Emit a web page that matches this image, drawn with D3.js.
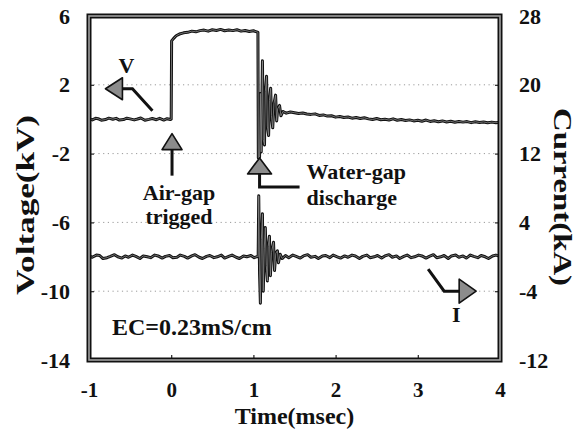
<!DOCTYPE html>
<html><head><meta charset="utf-8">
<script src="https://cdn.jsdelivr.net/npm/d3@7"></script>
<style>
body{margin:0;background:#fff;}
text{font-family:"Liberation Serif","Times New Roman",serif;font-weight:bold;fill:#111;}
</style></head>
<body><svg id="c" width="580" height="430"></svg>
<script>
// ---- data (time in msec) ----
const xTicks = [-1, 0, 1, 2, 3, 4];
const vTicks = [6, 2, -2, -6, -10, -14];
const iTicks = [28, 20, 12, 4, -4, -12];

// Voltage trace [t, kV]
const voltage = [
 [-1.00,0.02],[-0.96,-0.04],[-0.92,0.05],[-0.89,0.03],[-0.85,-0.06],[-0.80,-0.02],[-0.76,0.06],
 [-0.71,0.00],[-0.67,0.05],[-0.63,-0.05],[-0.58,-0.02],[-0.54,0.06],[-0.50,0.02],[-0.45,-0.04],
 [-0.41,0.01],[-0.37,0.07],[-0.32,-0.06],[-0.27,-0.01],[-0.23,0.04],[-0.18,-0.03],[-0.14,0.05],
 [-0.09,-0.05],[-0.05,0.03],[-0.01,-0.02],
 [0.00,0.00],[0.005,4.55],[0.03,4.70],[0.06,4.85],[0.10,4.95],[0.15,5.02],[0.20,5.05],[0.25,5.12],
 [0.30,5.08],[0.35,5.15],[0.40,5.18],[0.45,5.12],[0.50,5.20],[0.55,5.16],[0.60,5.22],[0.65,5.14],
 [0.70,5.19],[0.75,5.15],[0.80,5.20],[0.85,5.12],[0.90,5.16],[0.95,5.10],[1.00,5.14],[1.04,5.08],
 [1.055,5.05],[1.06,-2.25],[1.075,-2.2],[1.085,1.5],[1.095,-1.9],[1.11,3.4],[1.12,-1.2],[1.135,-1.5],
 [1.145,1.6],[1.16,2.5],[1.17,-0.4],[1.185,-0.95],[1.195,1.1],[1.21,1.8],[1.22,0.2],[1.235,-0.5],
 [1.25,0.9],[1.27,1.4],[1.283,-0.1],[1.295,0.6],[1.318,0.8],[1.335,0.2],[1.36,0.45],[1.40,0.35],
 [1.45,0.42],[1.50,0.38],[1.55,0.33],[1.60,0.36],[1.65,0.30],[1.70,0.28],[1.75,0.31],[1.80,0.22],
 [1.85,0.25],[1.90,0.18],[1.95,0.20],[2.00,0.12],[2.05,0.16],[2.10,0.10],[2.15,0.13],[2.20,0.06],
 [2.25,0.10],[2.30,0.04],[2.35,0.08],[2.40,0.02],[2.45,-0.02],[2.50,0.04],[2.55,-0.03],[2.60,0.00],
 [2.65,-0.05],[2.70,0.02],[2.75,-0.06],[2.80,-0.02],[2.85,-0.08],[2.90,-0.04],[2.95,-0.10],[3.00,-0.06],
 [3.05,-0.12],[3.10,-0.05],[3.15,-0.13],[3.20,-0.09],[3.25,-0.15],[3.30,-0.10],[3.35,-0.16],[3.40,-0.12],
 [3.45,-0.18],[3.50,-0.13],[3.55,-0.17],[3.60,-0.14],[3.65,-0.20],[3.70,-0.15],[3.75,-0.19],[3.80,-0.16],
 [3.85,-0.21],[3.90,-0.17],[3.95,-0.20],[4.00,-0.18]
];

// Current trace [t, kA]
const current = [
 [-1.00,0.1],[-0.96,-0.05],[-0.91,0.2],[-0.87,0.15],[-0.83,-0.2],[-0.78,-0.1],[-0.74,0.05],[-0.69,0.25],
 [-0.65,0.0],[-0.60,-0.15],[-0.56,0.1],[-0.52,-0.05],[-0.47,0.2],[-0.43,0.05],[-0.38,-0.2],[-0.34,0.1],
 [-0.29,0.0],[-0.25,-0.1],[-0.20,0.2],[-0.16,0.1],[-0.11,-0.15],[-0.07,0.05],[-0.02,0.15],[0.02,-0.1],
 [0.07,-0.05],[0.11,0.2],[0.16,0.05],[0.20,-0.15],[0.25,0.1],[0.29,0.25],[0.34,-0.05],[0.38,-0.2],
 [0.43,0.05],[0.47,0.15],[0.52,-0.1],[0.56,0.0],[0.61,0.2],[0.65,-0.15],[0.70,0.05],[0.74,0.2],
 [0.79,-0.05],[0.83,-0.2],[0.88,0.1],[0.92,0.0],[0.97,0.15],[1.01,-0.1],[1.05,0.05],
 [1.058,0.0],[1.065,7.1],[1.075,-2.0],[1.085,-5.4],[1.097,2.0],[1.11,5.0],
 [1.12,-4.0],[1.132,1.0],[1.145,3.4],[1.157,-1.0],[1.17,-2.8],[1.18,1.2],[1.195,2.4],[1.207,-2.2],
 [1.22,0.5],[1.245,1.7],[1.257,-1.6],[1.272,0.4],[1.292,0.7],[1.305,-0.7],[1.325,0.3],[1.35,-0.2],
 [1.39,0.15],[1.43,-0.1],[1.48,0.2],[1.52,0.05],[1.57,-0.15],[1.61,0.1],[1.66,0.25],[1.70,-0.05],
 [1.75,0.05],[1.79,-0.2],[1.84,0.1],[1.88,0.15],[1.93,-0.1],[1.97,0.2],[2.02,0.0],[2.06,-0.15],
 [2.11,0.1],[2.15,-0.05],[2.20,0.2],[2.24,0.1],[2.29,-0.2],[2.33,0.05],[2.38,0.2],[2.42,-0.1],
 [2.47,0.0],[2.51,0.15],[2.56,-0.15],[2.60,0.1],[2.65,0.25],[2.69,-0.05],[2.74,0.1],[2.78,-0.2],
 [2.83,0.05],[2.87,0.2],[2.92,-0.1],[2.96,0.0],[3.01,0.2],[3.05,0.1],[3.10,-0.15],[3.14,0.05],
 [3.19,0.25],[3.23,-0.1],[3.28,0.0],[3.32,0.15],[3.37,-0.2],[3.41,0.1],[3.46,0.2],[3.50,-0.05],
 [3.55,0.1],[3.59,-0.15],[3.64,0.2],[3.68,0.05],[3.73,-0.1],[3.77,0.15],[3.82,0.0],[3.86,-0.2],
 [3.91,0.1],[3.95,0.2],[4.00,0.05]
];

// ---- layout ----
const svg = d3.select("#c");
const L = 89, R = 500, T = 16, B = 360;
const x = d3.scaleLinear().domain([-1, 4]).range([L, R]);
const yV = d3.scaleLinear().domain([-14, 6]).range([B, T]);
const yI = d3.scaleLinear().domain([-12, 28]).range([B, T]);

// grid
svg.append("g").selectAll("line").data(vTicks.filter(v => v > -14 && v < 6)).join("line")
  .attr("x1", L).attr("x2", R).attr("y1", d => yV(d)).attr("y2", d => yV(d))
  .attr("stroke", "#9a9a9a").attr("stroke-width", 1).attr("stroke-dasharray", "1.2,3.5");

// axes
const fmt = d => String(d);
const axL = d3.axisLeft(yV).tickValues(vTicks).tickSize(-5).tickPadding(19).tickFormat(fmt);
const axR = d3.axisRight(yI).tickValues(iTicks).tickSize(-5).tickPadding(19).tickFormat(fmt);
const axB = d3.axisBottom(x).tickValues(xTicks).tickSize(-5).tickPadding(22).tickFormat(fmt);
function style(fs){ return g => { g.select(".domain").remove(); g.selectAll("line").attr("stroke","#222").attr("stroke-width",1.2);
  g.selectAll("text").attr("font-size",fs).attr("font-family","Liberation Serif, serif").attr("font-weight","bold").attr("fill","#111"); }; }
svg.append("g").attr("transform",`translate(${L},0)`).call(axL).call(style(22));
svg.append("g").attr("transform",`translate(${R},0)`).call(axR).call(style(22));
svg.append("g").attr("transform",`translate(0,${B})`).call(axB).call(style(21));

// traces
const lineV = d3.line().x(d => x(d[0])).y(d => yV(d[1]));
const lineI = d3.line().x(d => x(d[0])).y(d => yI(d[1]));
[[voltage,lineV],[current,lineI]].forEach(([data,ln]) => {
  svg.append("path").attr("d", ln(data)).attr("fill","none").attr("stroke","#111")
    .attr("stroke-width",3).attr("stroke-linejoin","round");
  svg.append("path").attr("d", ln(data)).attr("fill","none").attr("stroke","#8a8a8a")
    .attr("stroke-width",0.8).attr("stroke-linejoin","round");
});

// frame
svg.append("rect").attr("x",L).attr("y",T).attr("width",R-L).attr("height",B-T)
  .attr("fill","none").attr("stroke","#111").attr("stroke-width",5);
svg.append("rect").attr("x",L).attr("y",T).attr("width",R-L).attr("height",B-T)
  .attr("fill","none").attr("stroke","#a0a0a0").attr("stroke-width",1.6);

// ---- annotations ----
const ann = svg.append("g");
function tri(pts){ ann.append("path").attr("d","M"+pts.map(p=>p.join(",")).join("L")+"Z")
  .attr("fill","#8c8c8c").attr("stroke","#111").attr("stroke-width",1.6).attr("stroke-linejoin","round"); }
function pl(pts){ ann.append("path").attr("d","M"+pts.map(p=>p.join(",")).join("L"))
  .attr("fill","none").attr("stroke","#111").attr("stroke-width",3); }

// V arrow (points left)
{ const tx = x(-0.80), ty = yV(1.77);
  pl([[tx+16,ty],[tx+27,ty],[tx+47,ty+22]]);
  tri([[tx,ty],[tx+17,ty-11],[tx+17,ty+11]]);
  ann.append("text").attr("x",tx+21).attr("y",ty-16).attr("text-anchor","middle").attr("font-size",22).text("V"); }
// Air-gap arrow (points up)
{ const tx = x(0.01), ty = yV(-0.84);
  pl([[tx,ty+14],[tx,ty+42]]);
  tri([[tx,ty],[tx-10,ty+16],[tx+10,ty+16]]);
  ann.append("text").attr("x",tx+7).attr("y",ty+66).attr("text-anchor","middle").attr("font-size",22).text("Air-gap");
  ann.append("text").attr("x",tx+7).attr("y",ty+90).attr("text-anchor","middle").attr("font-size",22).text("trigged"); }
// Water-gap arrow (points up, L-shaped tail)
{ const tx = x(1.075), ty = yV(-2.25);
  pl([[tx,ty+14],[tx,ty+29],[tx+40,ty+29]]);
  tri([[tx,ty],[tx-12,ty+16],[tx+12,ty+16]]);
  ann.append("text").attr("x",tx+47).attr("y",ty+21).attr("font-size",22).text("Water-gap");
  ann.append("text").attr("x",tx+47).attr("y",ty+47).attr("font-size",22).text("discharge"); }
// I arrow (points right)
{ const tx = x(3.71), ty = yI(-4);
  pl([[tx-16,ty],[tx-32,ty],[tx-48,ty-22]]);
  tri([[tx,ty],[tx-17,ty-12],[tx-17,ty+12]]);
  ann.append("text").attr("x",tx-20).attr("y",ty+31).attr("text-anchor","middle").attr("font-size",22).text("I"); }
// EC label
ann.append("text").attr("x",x(-0.72)).attr("y",yV(-12.55)).attr("font-size",24).text("EC=0.23mS/cm");

// axis titles
svg.append("text").attr("x",(L+R)/2).attr("y",424).attr("text-anchor","middle").attr("font-size",24).text("Time(msec)");
svg.append("text").attr("transform","translate(34,205) rotate(-90)").attr("text-anchor","middle").attr("font-size",26)
  .attr("textLength",180).attr("lengthAdjust","spacingAndGlyphs").text("Voltage(kV)");
svg.append("text").attr("transform","translate(554,197) rotate(90)").attr("text-anchor","middle").attr("font-size",26)
  .attr("textLength",178).attr("lengthAdjust","spacingAndGlyphs").text("Current(kA)");
</script></body></html>
